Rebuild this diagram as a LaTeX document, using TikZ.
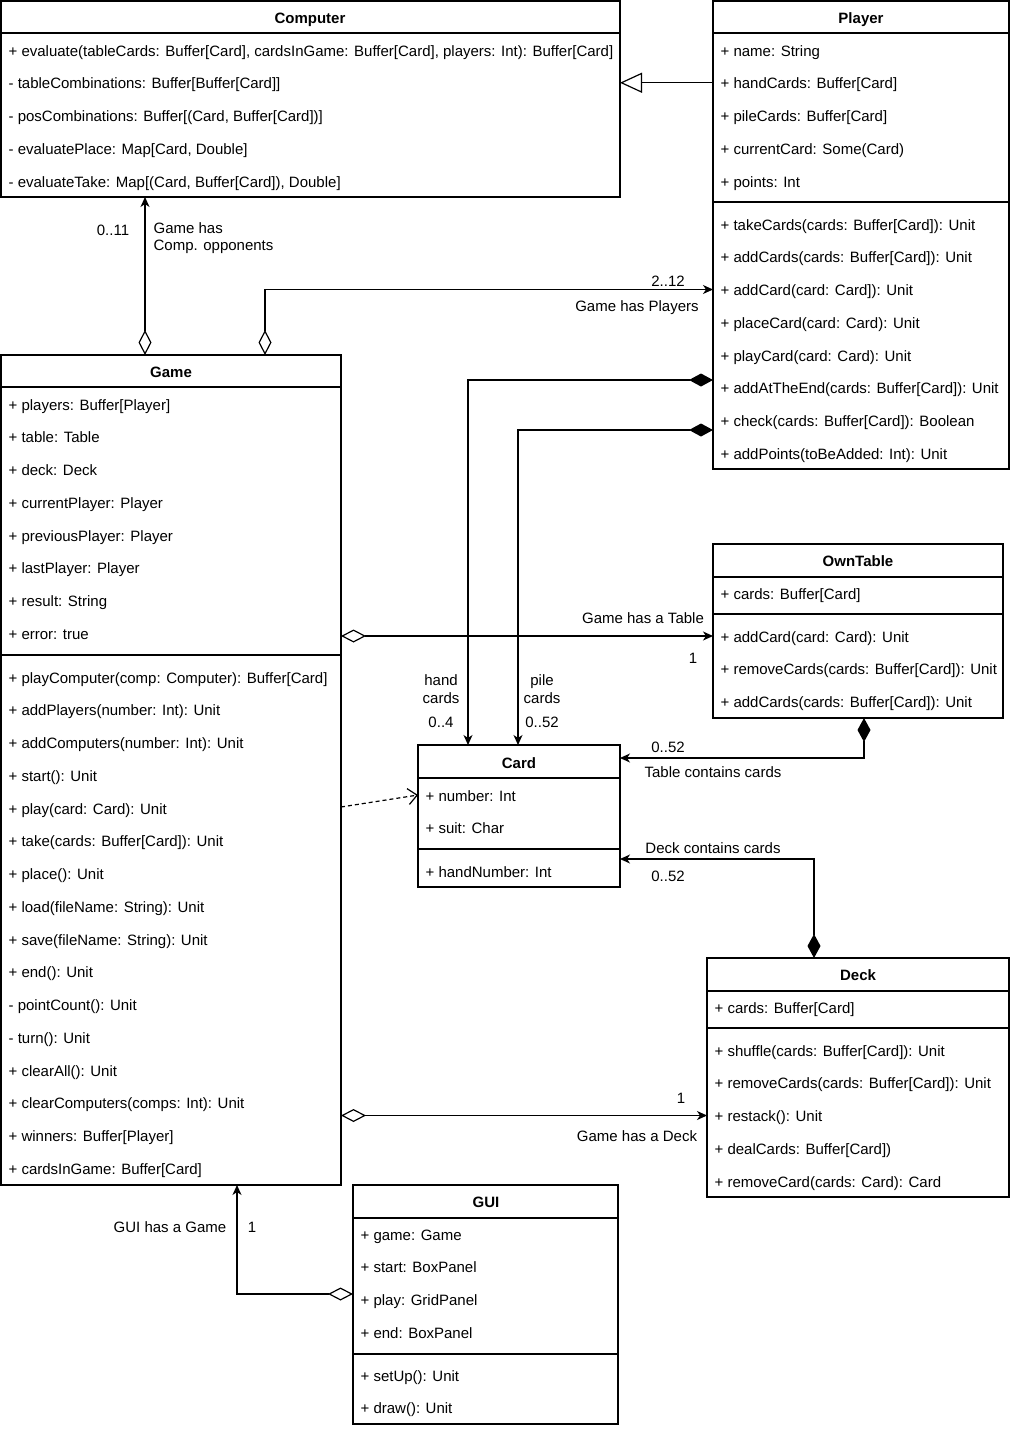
\documentclass[tikz,border=0pt]{standalone}
\usepackage{fontspec}
\setmainfont{Liberation Sans}
\usetikzlibrary{arrows.meta,calc}
\newcommand\fs{\fontsize{15pt}{18pt}\selectfont}
\newcommand\classrows[4]{\foreach \rowtext [count=\i from 0] in {#4} {\node[rowtxt] (#3\i) at (#1,#2+\i*32.75) {\rowtext};}}
\begin{document}
\begin{tikzpicture}[x=1pt,y=-1pt,line width=1.2pt,
  box/.style={draw,line width=1.2pt,anchor=north west,inner sep=0pt,outer sep=0pt},
  rowtxt/.style={anchor=west,inner sep=0pt,font=\fs,text height=13pt,text depth=1pt},
  ttl/.style={inner sep=0pt,font=\fs\bfseries,text height=13pt,text depth=1pt},
  lbl/.style={inner sep=0pt,font=\fs,align=center},
  lbl1/.style={inner sep=0pt,font=\fs,text height=13pt,text depth=1pt},
  agg/.style={draw,{Diamond[open,length=25pt,width=13pt]}-{Stealth[length=10pt,width=9pt,inset=3pt]}},
  comp/.style={draw,{Diamond[length=24pt,width=13pt]}-{Stealth[length=10pt,width=9pt,inset=3pt]}},
  gen/.style={draw,-{Triangle[open,length=22pt,width=20pt]}},
  dep/.style={draw,dash pattern=on 4pt off 3pt,-{Straight Barb[length=9pt,width=16pt]}}]
\useasboundingbox (0,0) rectangle (1010,1430);
\fill[white] (0,0) rectangle (1010,1430);

% ---------- Computer
\node[box,minimum width=619pt,minimum height=196pt] (computer) at (1,1) {};
\draw (1,33) -- (620,33);
\node[ttl] (computerT) at (310,17) {Computer};
\classrows{8}{50}{cm}{{+ evaluate(tableCards: Buffer[Card], cardsInGame: Buffer[Card], players: Int): Buffer[Card]},{- tableCombinations: Buffer[Buffer[Card]]},{- posCombinations: Buffer[(Card, Buffer[Card])]},{- evaluatePlace: Map[Card, Double]},{- evaluateTake: Map[(Card, Buffer[Card]), Double]}}

% ---------- Player
\node[box,minimum width=296pt,minimum height=468pt] (player) at (713,1) {};
\draw (713,33) -- (1009,33);
\draw (713,202) -- (1009,202);
\node[ttl] (playerT) at (861,17) {Player};
\classrows{720}{50}{pa}{{+ name: String},{+ handCards: Buffer[Card]},{+ pileCards: Buffer[Card]},{+ currentCard: Some(Card)},{+ points: Int}}
\classrows{720}{224}{pm}{{+ takeCards(cards: Buffer[Card]): Unit},{+ addCards(cards: Buffer[Card]): Unit},{+ addCard(card: Card]): Unit},{+ placeCard(card: Card): Unit},{+ playCard(card: Card): Unit},{+ addAtTheEnd(cards: Buffer[Card]): Unit},{+ check(cards: Buffer[Card]): Boolean},{+ addPoints(toBeAdded: Int): Unit}}

% ---------- Game
\node[box,minimum width=340pt,minimum height=830pt] (game) at (1,355) {};
\draw (1,387) -- (341,387);
\draw (1,655) -- (341,655);
\node[ttl] (gameT) at (171,371) {Game};
\classrows{8}{404}{ga}{{+ players: Buffer[Player]},{+ table: Table},{+ deck: Deck},{+ currentPlayer: Player},{+ previousPlayer: Player},{+ lastPlayer: Player},{+ result: String},{+ error: true}}
\classrows{8}{677}{gm}{{+ playComputer(comp: Computer): Buffer[Card]},{+ addPlayers(number: Int): Unit},{+ addComputers(number: Int): Unit},{+ start(): Unit},{+ play(card: Card): Unit},{+ take(cards: Buffer[Card]): Unit},{+ place(): Unit},{+ load(fileName: String): Unit},{+ save(fileName: String): Unit},{+ end(): Unit},{- pointCount(): Unit},{- turn(): Unit},{+ clearAll(): Unit},{+ clearComputers(comps: Int): Unit},{+ winners: Buffer[Player]},{+ cardsInGame: Buffer[Card]}}

% ---------- OwnTable
\node[box,minimum width=290pt,minimum height=174pt] (owntable) at (713,544) {};
\draw (713,577) -- (1003,577);
\draw (713,614) -- (1003,614);
\node[ttl] (owntableT) at (858,560) {OwnTable};
\classrows{720}{593}{oa}{{+ cards: Buffer[Card]}}
\classrows{720}{636}{om}{{+ addCard(card: Card): Unit},{+ removeCards(cards: Buffer[Card]): Unit},{+ addCards(cards: Buffer[Card]): Unit}}

% ---------- Card
\node[box,minimum width=202pt,minimum height=142pt] (card) at (418,745) {};
\draw (418,778) -- (620,778);
\draw (418,849) -- (620,849);
\node[ttl] (cardT) at (519,762) {Card};
\classrows{425}{795}{ca}{{+ number: Int},{+ suit: Char}}
\classrows{425}{871}{cmt}{{+ handNumber: Int}}

% ---------- Deck
\node[box,minimum width=302pt,minimum height=239pt] (deck) at (707,958) {};
\draw (707,991) -- (1009,991);
\draw (707,1028) -- (1009,1028);
\node[ttl] (deckT) at (858,974) {Deck};
\classrows{714}{1007}{da}{{+ cards: Buffer[Card]}}
\classrows{714}{1050}{dm}{{+ shuffle(cards: Buffer[Card]): Unit},{+ removeCards(cards: Buffer[Card]): Unit},{+ restack(): Unit},{+ dealCards: Buffer[Card])},{+ removeCard(cards: Card): Card}}

% ---------- GUI
\node[box,minimum width=265pt,minimum height=239pt] (gui) at (353,1185) {};
\draw (353,1218) -- (618,1218);
\draw (353,1354) -- (618,1354);
\node[ttl] (guiT) at (486,1201) {GUI};
\classrows{360}{1234}{ua}{{+ game: Game},{+ start: BoxPanel},{+ play: GridPanel},{+ end: BoxPanel}}
\classrows{360}{1375}{um}{{+ setUp(): Unit},{+ draw(): Unit}}

% ---------- Connectors
\draw[gen] (player.west |- pa1) -- (computer.east |- pa1);
\draw[agg] ($(game.north west)+(144,0)$) -- ($(computer.south west)+(144,0)$);
\draw[agg] ($(game.north west)+(264,0)$) |- (player.west |- pm2);
\draw[comp] ($(player.north west)+(0,379)$) -| ($(card.north west)+(50,0)$);
\draw[comp] ($(player.north west)+(0,429)$) -| ($(card.north west)+(100,0)$);
\draw[agg] (game.east |- om0) -- (owntable.west |- om0);
\draw[comp] ($(owntable.south west)+(151,0)$) |- ($(card.north east)+(0,13)$);
\draw[dep] ($(game.north east)+(0,452)$) -- (card.west |- ca0);
\draw[comp] ($(deck.north west)+(107,0)$) |- ($(card.north east)+(0,114)$);
\draw[agg] (game.east |- dm2) -- (deck.west |- dm2);
\draw[agg] ($(gui.north west)+(0,109)$) -| ($(game.south west)+(236,0)$);

% ---------- Labels
\node[lbl1] (l1) at (113,229) {0..11};
\node[lbl,anchor=west,align=left,font=\fontsize{15pt}{17pt}\selectfont] (l2) at (153,238) {Game has\\Comp. opponents};
\node[lbl1] (l3) at (668,280) {2..12};
\node[lbl1] (l4) at (637,305) {Game has Players};
\node[lbl] (l5) at (441,689) {hand\\cards};
\node[lbl1] (l6) at (441,721) {0..4};
\node[lbl] (l7) at (542,689) {pile\\cards};
\node[lbl1] (l8) at (542,721) {0..52};
\node[lbl1] (l9) at (643,617) {Game has a Table};
\node[lbl1] (l10) at (693,657) {1};
\node[lbl1] (l11) at (668,746) {0..52};
\node[lbl1] (l12) at (713,771) {Table contains cards};
\node[lbl1] (l13) at (713,847) {Deck contains cards};
\node[lbl1] (l14) at (668,875) {0..52};
\node[lbl1] (l15) at (681,1097) {1};
\node[lbl1] (l16) at (637,1135) {Game has a Deck};
\node[lbl1] (l17) at (170,1226) {GUI has a Game};
\node[lbl1] (l18) at (252,1226) {1};
\end{tikzpicture}
\end{document}
